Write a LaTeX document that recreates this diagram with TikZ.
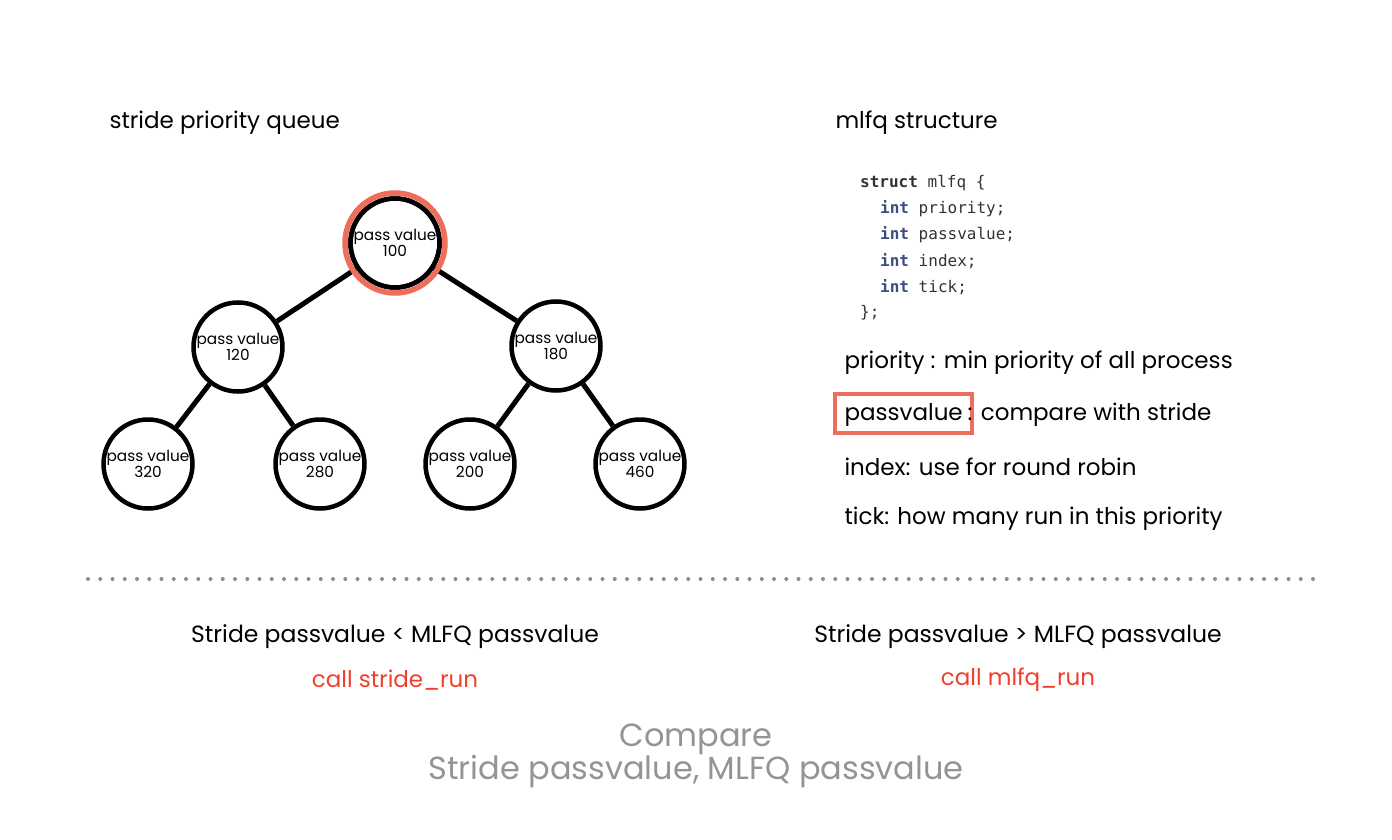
\documentclass[tikz,border=0pt]{standalone}
\usepackage{fontspec}
\setmainfont{Poppins}
\newfontfamily\codefont{DejaVu Sans Mono}
\begin{document}
\begin{tikzpicture}[x=1pt,y=-1pt,
  treenode/.style={circle,draw=black,line width=4.5pt,minimum size=89pt,inner sep=0pt,
    align=center,font=\fontsize{15.3}{15}\selectfont},
  edge/.style={line width=5pt},
  heading/.style={anchor=west,font=\fontsize{23}{25}\selectfont},
  body/.style={anchor=west,font=\fontsize{23}{25}\selectfont},
  codeline/.style={anchor=west,inner sep=0pt,font=\codefont\fontsize{16}{16}\selectfont,text=black!80},
  cmp/.style={font=\fontsize{23.5}{25}\selectfont},
  callred/.style={font=\fontsize{23}{25}\selectfont,text=callcol},
  summary/.style={font=\fontsize{32}{33}\selectfont,text=black!42,align=center},
]
\definecolor{ringcol}{HTML}{EE6E5C}
\definecolor{callcol}{HTML}{F0402C}
\definecolor{kwcol}{HTML}{3C4E7E}
\newcommand{\kwint}{\textcolor{kwcol}{\bfseries int}}
\useasboundingbox (0,0) rectangle (1392,840);

% left: stride priority queue
\node[heading] (t1) at (106,123) {stride priority queue};
\node[treenode] (r) at (395,243) {pass value\\100};
\node[treenode] (a) at (238,347) {pass value\\120};
\node[treenode] (b) at (556,346) {pass value\\180};
\node[treenode] (aa) at (148,464) {pass value\\320};
\node[treenode] (ab) at (320,464) {pass value\\280};
\node[treenode] (ba) at (470,464) {pass value\\200};
\node[treenode] (bb) at (640,464) {pass value\\460};
\draw[edge] (r) -- (a);
\draw[edge] (r) -- (b);
\draw[edge] (a) -- (aa);
\draw[edge] (a) -- (ab);
\draw[edge] (b) -- (ba);
\draw[edge] (b) -- (bb);
\draw[ringcol,line width=5.5pt] (r.center) circle[radius=50];
\draw[line width=4.5pt] (r.center) circle[radius=44.5];

% right: mlfq structure
\node[heading] (t2) at (832,123) {mlfq structure};
\node[codeline] (c1) at (860,183) {\bfseries struct\mdseries{} mlfq \{};
\node[codeline] (c2) at (880,209) {\kwint{} priority;};
\node[codeline] (c3) at (880,235) {\kwint{} passvalue;};
\node[codeline] (c4) at (880,261) {\kwint{} index;};
\node[codeline] (c5) at (880,287) {\kwint{} tick;};
\node[codeline] (c6) at (860,313) {\};};

% highlight frame behind the field description
\node[draw=ringcol,line width=4pt,minimum width=137pt,minimum height=39pt,inner sep=0pt] (hl) at (903.5,413) {};
\node[body] (d1) at (841,363) {priority : min priority of all process};
\node[body] (d2) at (841,415) {passvalue\hspace{5pt}: compare with stride};
\node[body] (d3) at (841,467) {index: use for round robin};
\node[body] (d4) at (841,519) {tick: how many run in this priority};

% separator
\draw[black!45,line width=4pt,line cap=round,dash pattern=on 0pt off 12.25pt] (88,579) -- (1315,579);

% bottom comparisons
\node[cmp] (l1) at (395,637) {Stride passvalue < MLFQ passvalue};
\node[callred] (l2) at (395,680) {call stride\_run};
\node[cmp] (r1) at (1018,637) {Stride passvalue > MLFQ passvalue};
\node[callred] (r2) at (1018,680) {call mlfq\_run};
\node[summary] (s) at (696,756) {Compare\\Stride passvalue, MLFQ passvalue};
\end{tikzpicture}
\end{document}
